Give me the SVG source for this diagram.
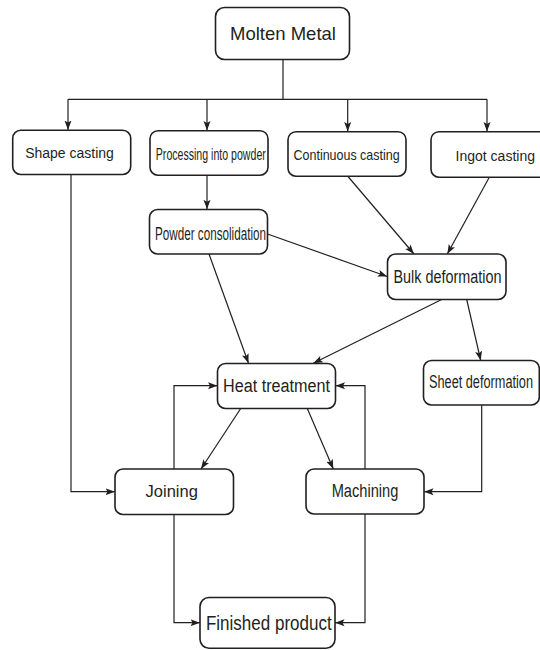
<svg xmlns="http://www.w3.org/2000/svg" width="540" height="650" viewBox="0 0 540 650">
<style>
.box{fill:#fff;stroke:#231f20;stroke-width:1.6}
.t{font-family:"Liberation Sans",Arial,sans-serif;fill:#231f20;text-anchor:middle}
.c{fill:none;stroke:#231f20;stroke-width:1.2}
</style>
<defs>
<marker id="ah" markerUnits="userSpaceOnUse" markerWidth="10" markerHeight="8" refX="9.5" refY="4" orient="auto">
<path d="M0,0.5 L9.5,4 L0,7.5 L2,4 Z" fill="#231f20"/>
</marker>
</defs>
<rect width="540" height="650" fill="#fff"/>
<g id="connectors">
<path class="c" d="M283,59.5 V99.3 M68,99.3 H487"/>
<path class="c" d="M68,99.3 V130" marker-end="url(#ah)"/>
<path class="c" d="M207,99.3 V130.5" marker-end="url(#ah)"/>
<path class="c" d="M347.7,99.3 V131.5" marker-end="url(#ah)"/>
<path class="c" d="M487,99.3 V131.5" marker-end="url(#ah)"/>
<path class="c" d="M207,175 V209.3" marker-end="url(#ah)"/>
<path class="c" d="M348,176.5 L414,254" marker-end="url(#ah)"/>
<path class="c" d="M489.3,177.3 L447.3,254" marker-end="url(#ah)"/>
<path class="c" d="M267.5,234 L387.3,276.5" marker-end="url(#ah)"/>
<path class="c" d="M209,254 L248.5,363.3" marker-end="url(#ah)"/>
<path class="c" d="M441.7,299.5 L313.3,363.3" marker-end="url(#ah)"/>
<path class="c" d="M466.7,299.5 L480.7,360.5" marker-end="url(#ah)"/>
<path class="c" d="M71,174.5 V491.7 H115" marker-end="url(#ah)"/>
<path class="c" d="M174,469 V385.7 H217.5" marker-end="url(#ah)"/>
<path class="c" d="M365,469 V385.7 H335.5" marker-end="url(#ah)"/>
<path class="c" d="M240.7,408.5 L201,469" marker-end="url(#ah)"/>
<path class="c" d="M307.3,408.5 L333.3,469" marker-end="url(#ah)"/>
<path class="c" d="M481.7,405 V491.7 H424" marker-end="url(#ah)"/>
<path class="c" d="M174,514.5 V622.7 H200" marker-end="url(#ah)"/>
<path class="c" d="M365,514 V622.7 H335" marker-end="url(#ah)"/>
</g>
<g id="molten-metal">
<rect class="box" x="215.5" y="7.5" width="134" height="52" rx="9"/>
<text class="t" x="283" y="39.5" font-size="18.5">Molten Metal</text>
</g>
<g id="shape-casting">
<rect class="box" x="12.7" y="130.3" width="118" height="44.2" rx="8"/>
<text class="t" x="69.5" y="158.3" font-size="14">Shape casting</text>
</g>
<g id="processing-into-powder">
<rect class="box" x="150" y="130.7" width="118" height="44.5" rx="8"/>
<text class="t" x="210.8" y="159.5" font-size="16.5" textLength="110" lengthAdjust="spacingAndGlyphs">Processing into powder</text>
</g>
<g id="continuous-casting">
<rect class="box" x="288" y="131.7" width="118" height="44.5" rx="8"/>
<text class="t" x="346.6" y="160" font-size="15" textLength="106" lengthAdjust="spacingAndGlyphs">Continuous casting</text>
</g>
<g id="ingot-casting">
<rect class="box" x="431" y="131.7" width="118" height="45.5" rx="8"/>
<text class="t" x="495.3" y="160.7" font-size="14">Ingot casting</text>
</g>
<g id="powder-consolidation">
<rect class="box" x="149.5" y="209.5" width="118" height="44.5" rx="8"/>
<text class="t" x="210.5" y="240" font-size="17.5" textLength="111" lengthAdjust="spacingAndGlyphs">Powder consolidation</text>
</g>
<g id="bulk-deformation">
<rect class="box" x="387.5" y="254" width="118.5" height="45.5" rx="8"/>
<text class="t" x="447.5" y="282.7" font-size="18" textLength="108" lengthAdjust="spacingAndGlyphs">Bulk deformation</text>
</g>
<g id="heat-treatment">
<rect class="box" x="217.5" y="363.5" width="118" height="45" rx="8"/>
<text class="t" x="276.5" y="391.7" font-size="18" textLength="107" lengthAdjust="spacingAndGlyphs">Heat treatment</text>
</g>
<g id="sheet-deformation">
<rect class="box" x="423.5" y="360.5" width="115.8" height="44.5" rx="8"/>
<text class="t" x="481" y="388.3" font-size="17.5" textLength="104" lengthAdjust="spacingAndGlyphs">Sheet deformation</text>
</g>
<g id="joining">
<rect class="box" x="115" y="469" width="118.5" height="45.5" rx="8"/>
<text class="t" x="171.7" y="496.7" font-size="16.5">Joining</text>
</g>
<g id="machining">
<rect class="box" x="306" y="469" width="118" height="45" rx="8"/>
<text class="t" x="365" y="497.3" font-size="18" textLength="66.7" lengthAdjust="spacingAndGlyphs">Machining</text>
</g>
<g id="finished-product">
<rect class="box" x="200" y="597.5" width="135" height="50.8" rx="9"/>
<text class="t" x="268.8" y="630" font-size="20" textLength="125.7" lengthAdjust="spacingAndGlyphs">Finished product</text>
</g>
</svg>
